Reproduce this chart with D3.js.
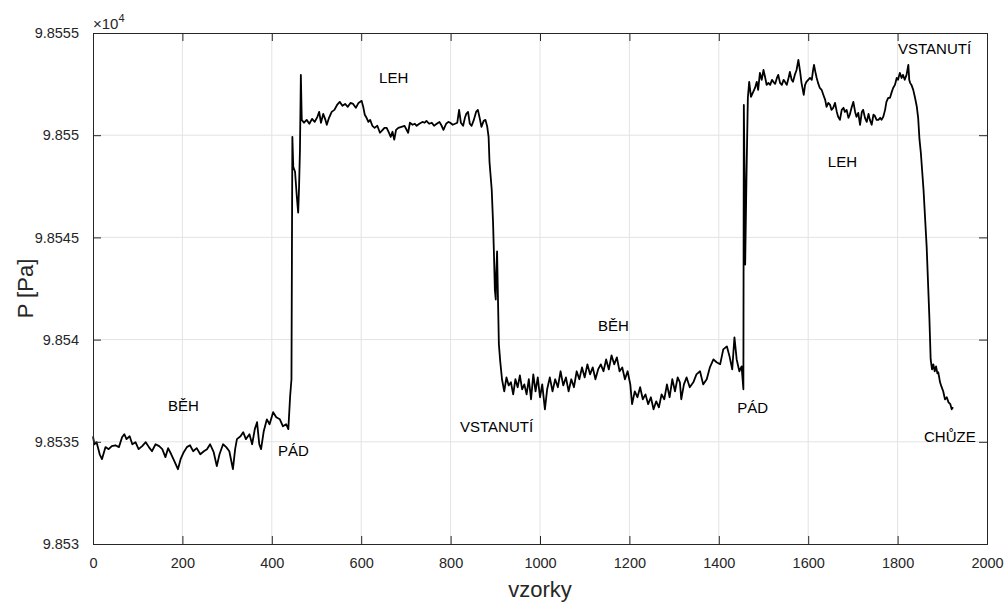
<!DOCTYPE html>
<html><head><meta charset="utf-8">
<script src="https://cdn.jsdelivr.net/npm/d3@7/dist/d3.min.js"></script>
<style>body{margin:0;background:#fff}svg{display:block}text{font-family:"Liberation Sans",Arial,sans-serif}</style>
</head><body><svg id="c" width="1008" height="603"></svg>
<script>
const samples = [0,3,8,15,20,28,35,42,50,58,65,70,75,82,88,95,102,110,118,125,132,140,148,155,162,168,175,182,190,196,203,210,217,224,232,240,248,255,262,270,277,283,291,298,305,313,318,322,330,336,342,350,356,362,367,372,376,382,389,395,403,410,418,425,432,437,441,444,446,448,452,456,459,461,463,465,467,
472,478,484,490,496,502,506,510,515,520,523,528,534,540,546,552,558,564,570,576,582,588,594,601,605,608,612,616,620,625,630,636,642,648,652,657,662,666,670,674,678,683,690,697,705,709,715,720,724,730,737,742,746,752,758,763,769,775,780,784,790,795,799,805,810,815,819,823,828,832,835,839,843,847,852,857,861,865,869,874,878,882,885,887,892,895,897,899,901,902,904,906,908,911,915,
920,925,930,935,940,945,950,955,960,965,970,975,980,985,990,995,1000,1005,1011,1016,1022,1028,1034,1040,1046,1052,1058,1064,1070,1076,1082,1088,1094,1100,1106,1112,1118,1124,1130,1136,1142,1148,1154,1160,1166,1172,1178,1184,1190,1196,1202,1206,1212,1218,1224,1230,1236,1242,1248,1254,1260,1266,1272,1278,1284,1290,1296,1302,1308,1313,1316,1322,1328,1335,1343,1350,1358,1365,1373,1380,1388,1395,1403,1410,1418,1424,1430,1435,1440,1446,1451,1455,1456,1458,1459,1462,1465,
1468,1472,1477,1481,1485,1488,1492,1496,1500,1504,1507,1511,1515,1519,1522,1526,1530,1533,1537,1541,1545,1548,1552,1556,1559,1563,1566,1570,1574,1578,1582,1585,1588,1590,1593,1596,1600,1604,1608,1611,1613,1616,1619,1622,1626,1630,1634,1638,1641,1645,1649,1652,1656,1660,1664,1667,1671,1675,1679,1682,1686,1690,1693,1697,1701,1705,1708,1712,1716,1720,1723,1727,1731,1735,1738,1742,1746,1749,1753,1757,1761,1764,1768,1772,1775,1779,1783,1787,1790,1794,1798,1801,1805,1809,1812,1816,1820,1824,1826,1828,1831,1835,1839,1843,1846,1849,1852,1858,1865,1871,1874,1877,1880,1883,1886,1889,1891,1895,1898,1902,1906,1910,1914,1918,1921,1924];
const pressure = [98535.27,98534.88,98534.98,98534.39,98534.15,98534.74,98534.64,98534.79,98534.83,98534.74,98535.22,98535.37,98535.13,98535.27,98534.88,98534.98,98534.64,98534.79,98534.98,98534.74,98534.54,98534.88,98534.79,98534.64,98534.25,98534.69,98534.39,98534.05,98533.66,98534.15,98534.49,98534.74,98534.83,98534.54,98534.69,98534.39,98534.54,98534.64,98534.88,98534.49,98533.81,98534.39,98534.88,98534.74,98534.54,98533.66,98534.64,98535.13,98535.27,98535.47,98535.13,98535.37,98534.88,98535.62,98535.96,98534.88,98534.64,98535.52,98536.10,98535.86,98536.45,98536.20,98536.10,98535.76,98535.86,98535.62,98537.23,98538.06,98549.92,98548.46,98548.21,98546.99,98546.21,98547.48,98549.29,98552.95,98550.75,
98550.61,98550.75,98550.56,98550.80,98550.65,98550.90,98551.14,98550.61,98551.04,98550.75,98550.51,98550.85,98551.14,98551.24,98551.48,98551.63,98551.44,98551.53,98551.39,98551.58,98551.53,98551.34,98551.58,98551.68,98551.34,98551.00,98550.85,98550.65,98550.75,98550.46,98550.36,98550.46,98550.12,98550.26,98550.36,98550.36,98550.12,98549.92,98550.17,98549.78,98550.26,98550.36,98550.41,98550.46,98550.12,98550.61,98550.51,98550.56,98550.46,98550.56,98550.65,98550.61,98550.70,98550.56,98550.61,98550.46,98550.56,98550.65,98550.46,98550.26,98550.56,98550.65,98550.61,98550.51,98550.56,98550.61,98551.24,98550.61,98550.46,98550.85,98551.04,98551.14,98550.56,98550.46,98550.75,98551.14,98551.24,98550.85,98550.41,98550.70,98550.75,98550.41,98549.92,98548.70,98547.33,98545.72,98544.16,98542.45,98541.96,98543.18,98544.31,98541.96,98539.77,98538.94,98538.06,
98537.47,98538.15,98537.76,98537.91,98537.32,98538.06,98537.67,98538.25,98537.57,98537.81,98537.32,98538.06,98537.08,98538.30,98537.47,98538.15,98537.18,98537.81,98536.59,98537.57,98538.15,98537.47,98538.06,98537.67,98538.45,98537.76,98538.15,98537.47,98538.06,98537.67,98538.45,98538.06,98538.64,98538.15,98538.79,98538.30,98538.64,98538.06,98538.54,98538.79,98538.45,98539.03,98538.54,98539.23,98538.79,98539.13,98538.45,98538.64,98538.06,98538.45,98537.81,98536.84,98537.47,98537.18,98537.67,98537.08,98537.32,98536.84,98537.18,98536.59,98536.98,98536.69,98537.32,98537.08,98537.81,98537.18,98538.06,98537.47,98538.15,98537.91,98537.08,98537.81,98538.15,98537.67,98537.91,98538.30,98538.45,98537.81,98538.06,98538.64,98539.03,98538.89,98538.79,98539.52,98539.67,98539.18,98538.54,98540.11,98539.03,98538.45,98538.69,98537.57,98551.48,98547.33,98543.67,98548.07,98551.83,
98552.61,98551.88,98552.12,98552.31,98552.61,98552.22,98553.05,98552.71,98553.19,98552.80,98552.46,98552.56,98552.46,98552.71,98552.61,98552.51,98552.80,98552.95,98552.56,98552.46,98552.71,98552.61,98552.46,98552.80,98553.10,98552.71,98552.61,98552.95,98553.19,98553.68,98553.10,98552.56,98552.22,98551.97,98552.46,98552.61,98552.71,98552.80,98552.71,98553.19,98553.44,98553.10,98552.80,98552.56,98552.31,98552.22,98551.97,98551.73,98551.39,98551.58,98551.48,98551.24,98551.34,98551.58,98551.14,98550.90,98550.75,98551.24,98551.34,98551.14,98551.24,98550.85,98551.00,98551.34,98551.63,98551.14,98550.90,98551.09,98550.51,98551.14,98551.24,98550.85,98550.65,98551.04,98550.75,98550.51,98551.00,98550.95,98550.75,98550.75,98550.85,98550.75,98550.90,98551.24,98551.63,98551.83,98551.83,98552.12,98552.31,98552.46,98552.80,98552.71,98553.05,98552.80,98552.95,98552.71,98552.95,98553.44,98552.71,98552.56,98552.46,98552.22,98551.83,98551.39,98550.85,98549.78,98549.14,98547.33,98544.55,98541.13,98539.03,98538.54,98538.79,98538.45,98538.69,98538.35,98538.40,98537.91,98537.71,98537.47,98537.08,98537.18,98536.93,98536.84,98536.59,98536.69];
const xTicks = [0,200,400,600,800,1000,1200,1400,1600,1800,2000];
const yTicks = [98530,98535,98540,98545,98550,98555];
const yTickLabels = ["9.853","9.8535","9.854","9.8545","9.855","9.8555"];
const annText = ["BĚH","PÁD","LEH","VSTANUTÍ","BĚH","PÁD","LEH","VSTANUTÍ","CHŮZE"];
const annX = [168,414,640,821,1130,1441,1644,1801,1859];
const annY = [98536.5,98534.3,98552.55,98535.48,98540.42,98536.41,98548.44,98553.97,98534.99];

const svg = d3.select("#c");
const L=93, R=987, T=33, B=544;
const x = d3.scaleLinear().domain([0,2000]).range([L,R]);
const y = d3.scaleLinear().domain([98530,98555]).range([B,T]);
const axisCol = "#262626", gridCol = "#e3e3e3";

// grid
svg.append("g").selectAll("line").data(xTicks.slice(1,-1)).join("line")
  .attr("x1",d=>x(d)).attr("x2",d=>x(d)).attr("y1",T).attr("y2",B).attr("stroke",gridCol).attr("stroke-width",1);
svg.append("g").selectAll("line").data(yTicks.slice(1,-1)).join("line")
  .attr("y1",d=>y(d)).attr("y2",d=>y(d)).attr("x1",L).attr("x2",R).attr("stroke",gridCol).attr("stroke-width",1);

// data line
const pts = samples.map((s,i)=>[s,pressure[i]]);
svg.append("path").datum(pts)
  .attr("d", d3.line().x(d=>x(d[0])).y(d=>y(d[1])))
  .attr("fill","none").attr("stroke","#000").attr("stroke-width",1.8).attr("stroke-linejoin","round");

// axes (ticks inside)
const tl = 8;
const xb = svg.append("g").attr("transform",`translate(0,${B})`)
  .call(d3.axisBottom(x).tickValues(xTicks).tickSize(-tl).tickPadding(tl+6).tickFormat(d3.format("d")));
const xt = svg.append("g").attr("transform",`translate(0,${T})`)
  .call(d3.axisTop(x).tickValues(xTicks).tickSize(-tl).tickFormat(""));
const yl = svg.append("g").attr("transform",`translate(${L},0)`)
  .call(d3.axisLeft(y).tickValues(yTicks).tickSize(-tl).tickPadding(tl+6).tickFormat((d,i)=>yTickLabels[i]));
const yr = svg.append("g").attr("transform",`translate(${R},0)`)
  .call(d3.axisRight(y).tickValues(yTicks).tickSize(-tl).tickFormat(""));
[xb,xt,yl,yr].forEach(g=>{
  g.select(".domain").attr("stroke",axisCol).attr("stroke-width",1);
  g.selectAll(".tick line").attr("stroke",axisCol).attr("stroke-width",1);
  g.selectAll("text").attr("fill",axisCol).style("font-size","14.5px").style("font-family","Liberation Sans, Arial, sans-serif");
});

// exponent
const ex = svg.append("text").attr("x",L).attr("y",29).attr("fill",axisCol).style("font-size","15px");
ex.append("tspan").text("×10");
ex.append("tspan").attr("dy",-7).style("font-size","11px").text("4");

// axis labels
svg.append("text").attr("x",(L+R)/2).attr("y",597).attr("text-anchor","middle").attr("fill",axisCol)
  .style("font-size","22px").text("vzorky");
svg.append("text").attr("transform",`translate(33,${(T+B)/2}) rotate(-90)`).attr("text-anchor","middle").attr("fill",axisCol)
  .style("font-size","22px").text("P [Pa]");

// annotations
svg.append("g").selectAll("text").data(annText).join("text")
  .attr("x",(d,i)=>x(annX[i])).attr("y",(d,i)=>y(annY[i]))
  .attr("fill","#000").style("font-size","15px").text(d=>d);
</script></body></html>
